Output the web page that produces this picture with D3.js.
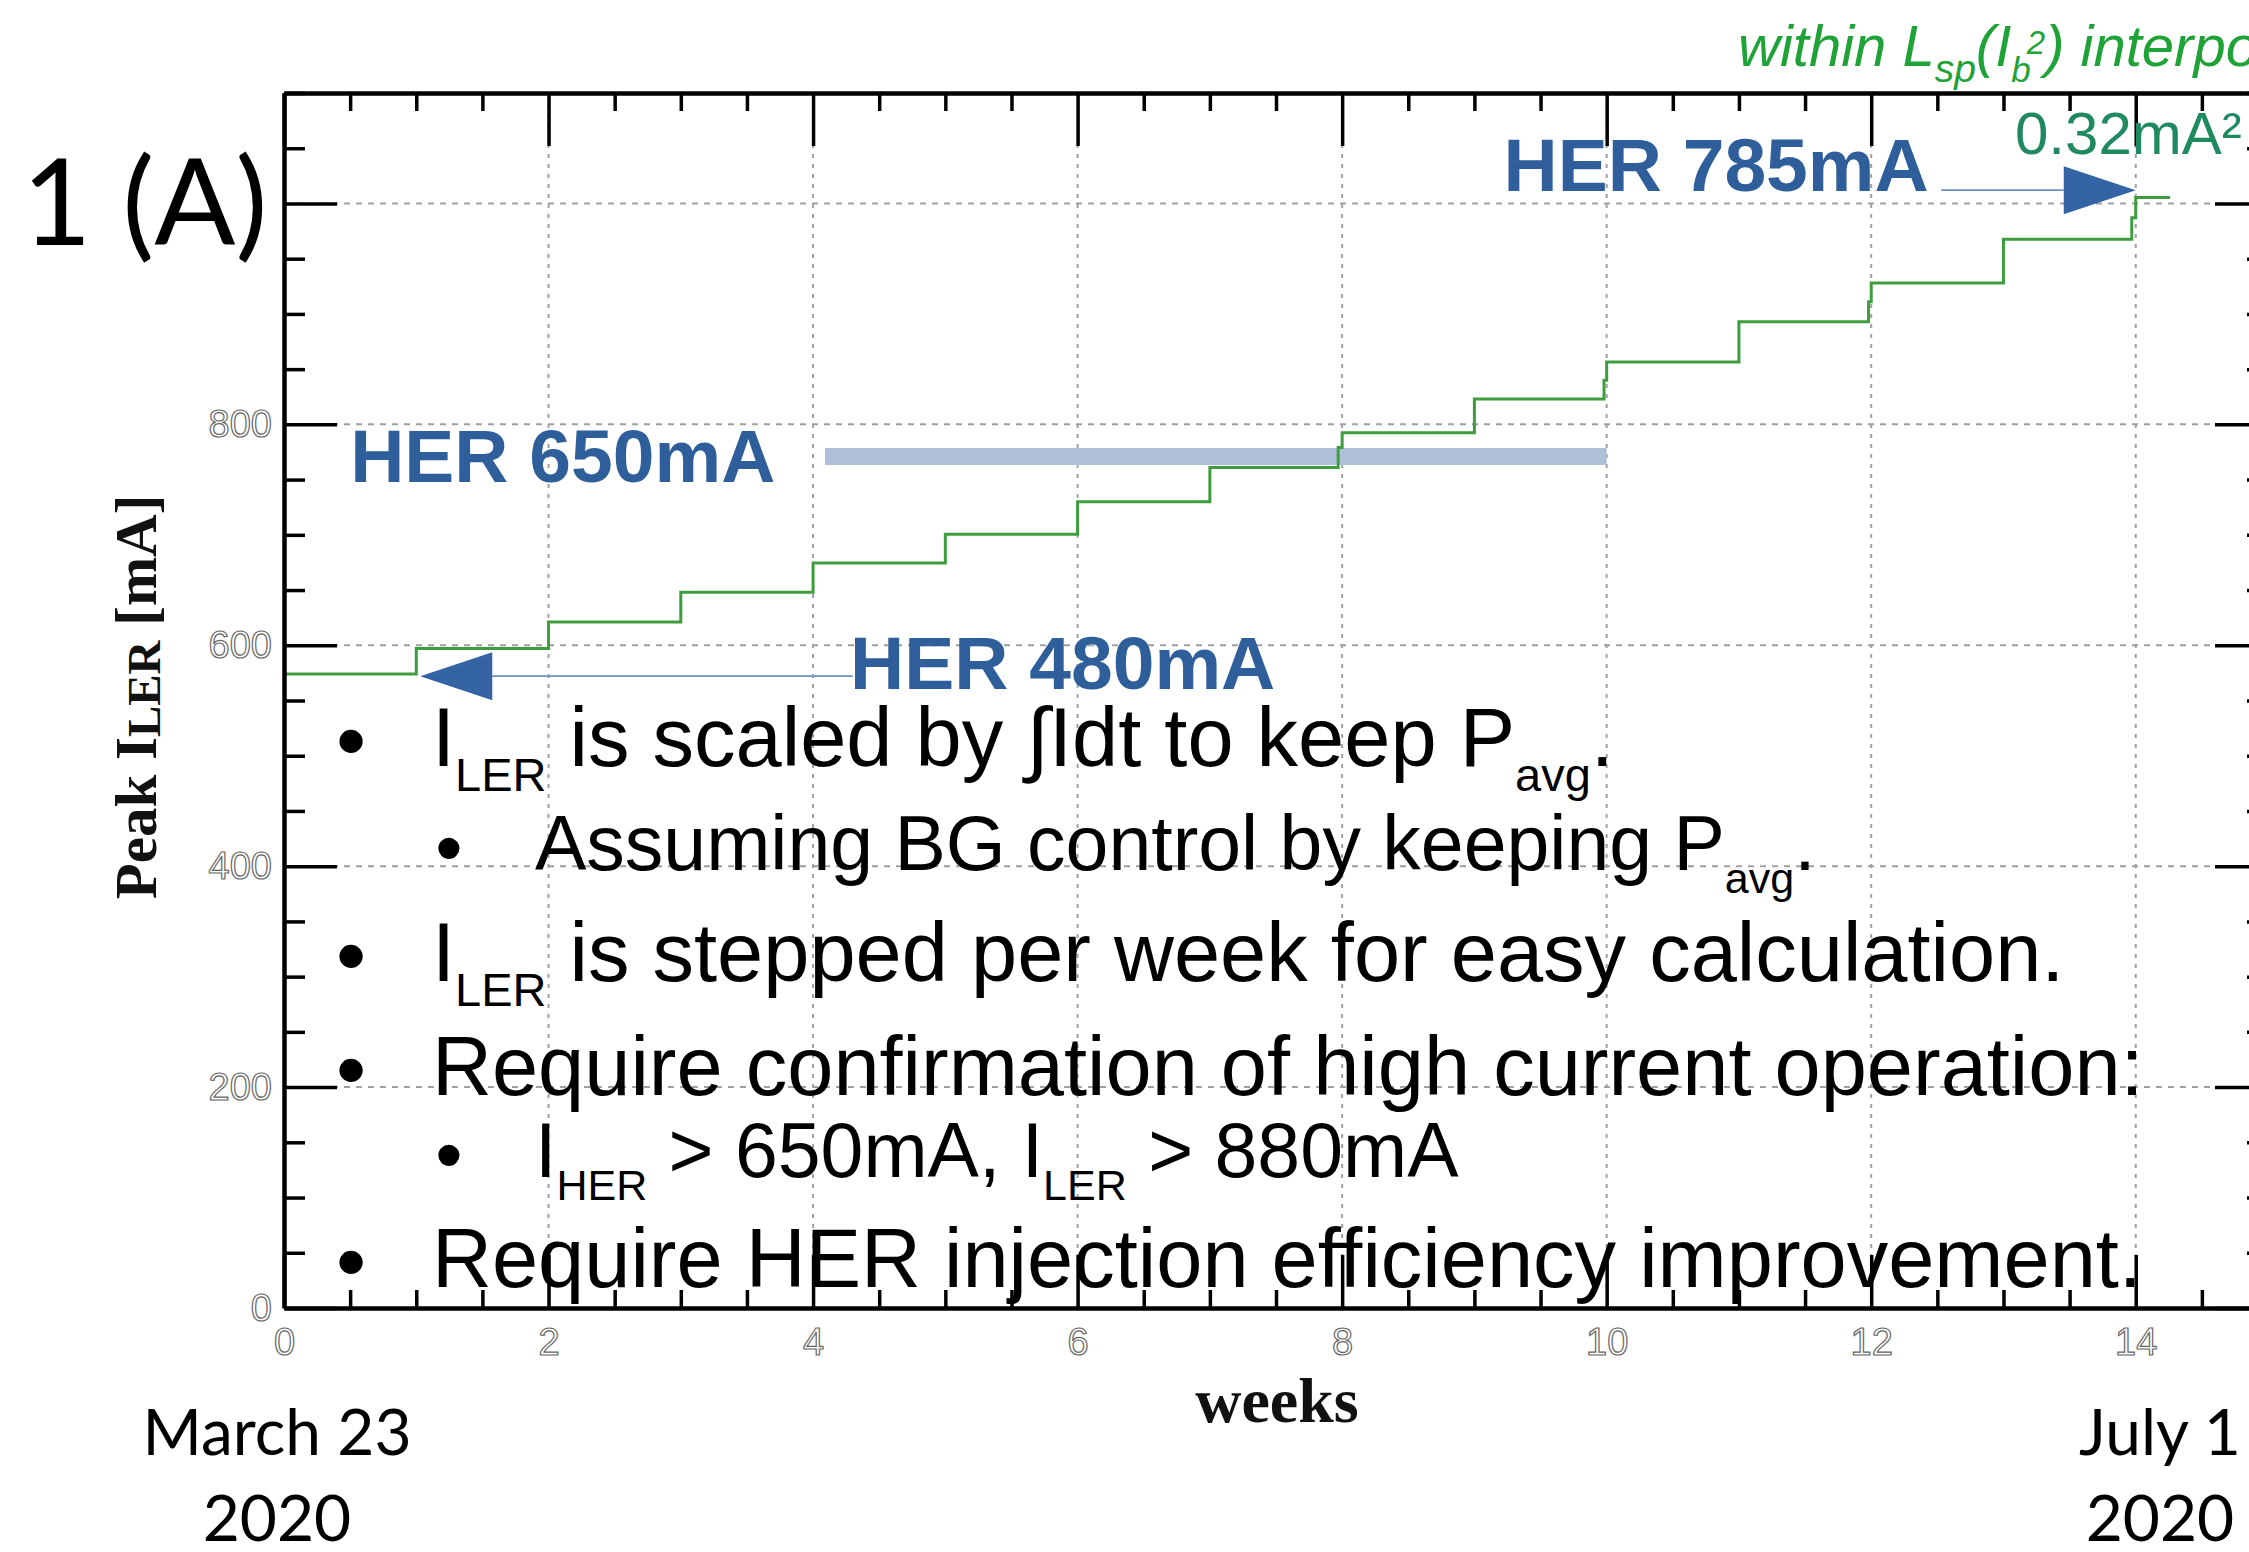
<!DOCTYPE html>
<html>
<head>
<meta charset="utf-8">
<script src="https://cdn.jsdelivr.net/npm/d3@7"></script>
<style>
  html, body { margin: 0; padding: 0; background: #fff; }
  svg { display: block; }
</style>
</head>
<body>
<svg id="chart" width="2249" height="1552"></svg>
<script>
// ---- data -------------------------------------------------------------
// Peak LER current plan, stepped once per week (value holds until next point)
const stepWeeks  = [0, 1, 2, 3, 4, 5, 6, 7, 7.97, 8, 9, 9.98, 10, 11, 11.98, 12, 13, 13.97, 14, 14.26];
const stepValues = [574, 597, 621, 648, 674.5, 700.5, 730, 761, 779, 792.5, 823, 840, 856.5, 893, 911, 928, 967.5, 987, 1005.5, 1005.5];

// axis extents and ticks
const weekDomain = [0, 15];
const currentDomain = [0, 1100];
const majorWeeks = [0, 2, 4, 6, 8, 10, 12, 14];
const weekTickLabels = ["0", "2", "4", "6", "8", "10", "12", "14"];
const majorCurrents = [0, 200, 400, 600, 800, 1000];
const currentTickLabels = ["0", "200", "400", "600", "800"];
const gridWeeks = [2, 4, 6, 8, 10, 12, 14];
const gridCurrents = [200, 400, 600, 800, 1000];

// HER milestones: labels, anchor (week, mA) of each label
const herLabels = ["HER 785mA", "HER 650mA", "HER 480mA"];
const herLabelWeeks = [9.22, 0.50, 4.28];
const herLabelLevels = [1011, 748, 560];
// arrows: tail -> tip, in (week, mA)
const her785Tail = [12.53, 1012];
const her785Tip = [14.0, 1012];
const her480Tail = [4.30, 572];
const her480Tip = [1.03, 572];
// HER 650mA period band
const her650Weeks = [4.09, 10.0];
const her650Level = 771;

// ---- setup ------------------------------------------------------------
const svg = d3.select("#chart");
const x = d3.scaleLinear().domain(weekDomain).range([284, 2268]);
const y = d3.scaleLinear().domain(currentDomain).range([1308, 93]);

const minorWeeks = d3.range(0.5, 15.01, 0.5).filter(w => w % 2 !== 0);
const minorCurrents = d3.range(50, 1100.01, 50).filter(v => v % 200 !== 0);

// ---- grid -------------------------------------------------------------
const grid = svg.append("g");
grid.selectAll("line.h").data(gridCurrents).join("line")
  .attr("x1", x(weekDomain[0])).attr("x2", x(weekDomain[1]))
  .attr("y1", d => y(d)).attr("y2", d => y(d))
  .attr("stroke", "#a0a0a0").attr("stroke-width", 2).attr("stroke-dasharray", "6 6");
grid.selectAll("line.v").data(gridWeeks).join("line")
  .attr("x1", d => x(d)).attr("x2", d => x(d))
  .attr("y1", y(currentDomain[0])).attr("y2", y(currentDomain[1]))
  .attr("stroke", "#a0a0a0").attr("stroke-width", 2).attr("stroke-dasharray", "4 6");

// ---- HER 650mA band ---------------------------------------------------
svg.append("line")
  .attr("x1", x(her650Weeks[0])).attr("x2", x(her650Weeks[1]))
  .attr("y1", y(her650Level)).attr("y2", y(her650Level))
  .attr("stroke", "#aebfda").attr("stroke-width", 17);

// ---- LER step line ----------------------------------------------------
const stepLine = d3.line()
  .x(d => x(d[0])).y(d => y(d[1]))
  .curve(d3.curveStepAfter);
svg.append("path")
  .datum(d3.zip(stepWeeks, stepValues))
  .attr("d", stepLine)
  .attr("fill", "none")
  .attr("stroke", "#3e9e3e")
  .attr("stroke-width", 3);

// ---- axes -------------------------------------------------------------
function styleAxis(g, keepDomain) {
  g.attr("font-family", null).attr("font-size", null);
  if (keepDomain) {
    g.select(".domain").attr("stroke", "#000").attr("stroke-width", 4.5);
  } else {
    g.select(".domain").remove();
  }
  g.selectAll(".tick line").attr("stroke", "#000").attr("stroke-width", 3.5);
  g.selectAll(".tick text")
    .attr("font-family", "'Liberation Sans', Arial, sans-serif")
    .attr("font-size", 38)
    .attr("fill", "#fff")
    .attr("stroke", "#666")
    .attr("stroke-width", 1.2);
  return g;
}

const x0 = x(weekDomain[0]), x1 = x(weekDomain[1]);
const y0 = y(currentDomain[0]), y1 = y(currentDomain[1]);

// bottom
styleAxis(svg.append("g").attr("transform", `translate(0,${y0})`)
  .call(d3.axisBottom(x).tickValues(minorWeeks).tickSize(-18).tickSizeOuter(0).tickFormat("")), false);
styleAxis(svg.append("g").attr("transform", `translate(0,${y0})`)
  .call(d3.axisBottom(x).tickValues(majorWeeks).tickSize(-53).tickSizeOuter(0).tickPadding(20)
    .tickFormat((d, i) => weekTickLabels[i])), true);
// top
styleAxis(svg.append("g").attr("transform", `translate(0,${y1})`)
  .call(d3.axisTop(x).tickValues(minorWeeks).tickSize(-18).tickSizeOuter(0).tickFormat("")), false);
styleAxis(svg.append("g").attr("transform", `translate(0,${y1})`)
  .call(d3.axisTop(x).tickValues(majorWeeks).tickSize(-53).tickSizeOuter(0).tickFormat("")), true);
// left
styleAxis(svg.append("g").attr("transform", `translate(${x0},0)`)
  .call(d3.axisLeft(y).tickValues(minorCurrents).tickSize(-21).tickSizeOuter(0).tickFormat("")), false);
styleAxis(svg.append("g").attr("transform", `translate(${x0},0)`)
  .call(d3.axisLeft(y).tickValues(majorCurrents).tickSize(-53).tickSizeOuter(0).tickPadding(12)
    .tickFormat((d, i) => currentTickLabels[i] || "")), true);
// right
styleAxis(svg.append("g").attr("transform", `translate(${x1},0)`)
  .call(d3.axisRight(y).tickValues(minorCurrents).tickSize(-21).tickSizeOuter(0).tickFormat("")), false);
styleAxis(svg.append("g").attr("transform", `translate(${x1},0)`)
  .call(d3.axisRight(y).tickValues(majorCurrents).tickSize(-53).tickSizeOuter(0).tickFormat("")), true);

// axis titles
const yTitle = svg.append("text")
  .attr("transform", "translate(156,697) rotate(-90)")
  .attr("text-anchor", "middle")
  .attr("font-family", "'Liberation Serif', 'Times New Roman', serif")
  .attr("font-weight", "bold")
  .attr("font-size", 59)
  .attr("fill", "#111");
yTitle.append("tspan").text("Peak I");
yTitle.append("tspan").attr("font-size", 47).attr("dy", 4).text("LER");
yTitle.append("tspan").attr("dy", -4).text(" [mA]");

svg.append("text")
  .attr("x", 1277).attr("y", 1422)
  .attr("text-anchor", "middle")
  .attr("font-family", "'Liberation Serif', 'Times New Roman', serif")
  .attr("font-weight", "bold")
  .attr("font-size", 64)
  .attr("fill", "#111")
  .text("weeks");

// ---- HER annotations --------------------------------------------------
const herBlue = "#2e5f9b";
svg.append("g").selectAll("text").data(herLabels).join("text")
  .attr("x", (d, i) => x(herLabelWeeks[i]))
  .attr("y", (d, i) => y(herLabelLevels[i]))
  .attr("font-family", "'Liberation Sans', Arial, sans-serif")
  .attr("font-weight", "bold")
  .attr("font-size", 75)
  .attr("fill", herBlue)
  .text(d => d);

function arrow(tail, tip, dir) {
  const tx = x(tip[0]), ty = y(tip[1]);
  const headLen = 72, headHalf = 24;
  const bx = tx - dir * headLen;
  svg.append("line")
    .attr("x1", x(tail[0])).attr("y1", y(tail[1]))
    .attr("x2", bx).attr("y2", ty)
    .attr("stroke", "#6b8fc7").attr("stroke-width", 1.8);
  svg.append("path")
    .attr("d", `M${tx},${ty}L${bx},${ty - headHalf}L${bx},${ty + headHalf}Z`)
    .attr("fill", "#3464a3");
}
arrow(her785Tail, her785Tip, 1);
arrow(her480Tail, her480Tip, -1);

// ---- green notes above the frame -------------------------------------
const note = svg.append("text")
  .attr("x", 1738).attr("y", 66)
  .attr("font-family", "'Liberation Sans', Arial, sans-serif")
  .attr("font-style", "italic")
  .attr("font-size", 58)
  .attr("fill", "#1fa337");
note.append("tspan").text("within L");
note.append("tspan").attr("font-size", 39).attr("dy", 16).text("sp");
note.append("tspan").attr("dy", -16).text("(I");
note.append("tspan").attr("font-size", 35).attr("dy", 16).text("b");
note.append("tspan").attr("font-size", 33).attr("dx", -4).attr("dy", -28).text("2");
note.append("tspan").attr("dy", 12).text(") interpolation");

svg.append("text")
  .attr("x", 2015).attr("y", 154)
  .attr("font-family", "'Liberation Sans', Arial, sans-serif")
  .attr("font-size", 60)
  .attr("fill", "#1f8a5f")
  .text("0.32mA²");

// ---- slide labels -----------------------------------------------------
const thin = "Lato, 'Open Sans', sans-serif";
svg.append("text")
  .attr("x", 22).attr("y", 245)
  .attr("font-family", thin).attr("font-weight", 400)
  .attr("font-size", 120).attr("fill", "#000")
  .text("1 (A)");

function dateLabel(cx, lines) {
  svg.append("g").selectAll("text").data(lines).join("text")
    .attr("x", cx).attr("y", (d, i) => 1455 + i * 86)
    .attr("text-anchor", "middle")
    .attr("font-family", thin).attr("font-weight", 400)
    .attr("font-size", 64).attr("fill", "#000")
    .text(d => d);
}
dateLabel(277, ["March 23", "2020"]);
dateLabel(2160, ["July 1", "2020"]);

// ---- bullet list ------------------------------------------------------
const bulletRows = [
  { level: 0, base: 766, parts: [["I"], ["LER", "sub"], [" is scaled by ∫Idt to keep P"], ["avg", "sub"], ["."]] },
  { level: 1, base: 870, parts: [["Assuming BG control by keeping P"], ["avg", "sub"], ["."]] },
  { level: 0, base: 981, parts: [["I"], ["LER", "sub"], [" is stepped per week for easy calculation."]] },
  { level: 0, base: 1095, parts: [["Require confirmation of high current operation:"]] },
  { level: 1, base: 1177, parts: [["I"], ["HER", "sub"], [" > 650mA, I"], ["LER", "sub"], [" > 880mA"]] },
  { level: 0, base: 1287, parts: [["Require HER injection efficiency improvement."]] }
];
const bulletX = [351, 449];
const textX = [432, 535];
const bulletSize = [86, 78];
const lineSize = [83, 77];
const subSize = [47, 43];
const subShift = [25, 23];

const list = svg.append("g")
  .attr("font-family", "'Liberation Sans', Arial, sans-serif")
  .attr("fill", "#000");
bulletRows.forEach(row => {
  const lv = row.level;
  list.append("text")
    .attr("x", bulletX[lv]).attr("y", row.base + 4)
    .attr("text-anchor", "middle")
    .attr("font-size", bulletSize[lv])
    .text("•");
  const t = list.append("text")
    .attr("x", textX[lv]).attr("y", row.base)
    .attr("font-size", lineSize[lv]);
  let shifted = false;
  row.parts.forEach(([s, kind]) => {
    const span = t.append("tspan").text(s);
    if (kind === "sub") {
      span.attr("font-size", subSize[lv]).attr("dy", shifted ? 0 : subShift[lv]);
      shifted = true;
    } else if (shifted) {
      span.attr("dy", -subShift[lv]);
      shifted = false;
    }
  });
});
</script>
</body>
</html>
